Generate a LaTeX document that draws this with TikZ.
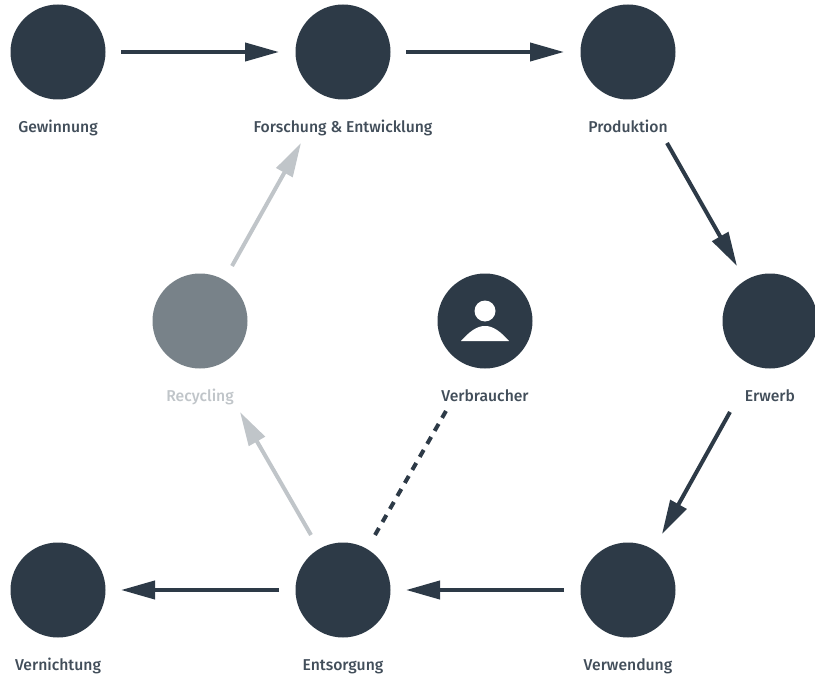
\documentclass[tikz,border=0pt]{standalone}
\usepackage{fontspec}
\setmainfont{Fira Sans}[BoldFont={Fira Sans Medium}]
\usepackage{xcolor}
\usetikzlibrary{arrows.meta}
\definecolor{darkblue}{HTML}{2D3A47}
\definecolor{midgray}{HTML}{788289}
\definecolor{lightgray}{HTML}{C0C5C9}
\tikzset{
    station/.style={circle, fill=darkblue, minimum size=95pt, inner sep=0pt, outer sep=0pt},
    caption/.style={font=\fontsize{15.7}{18}\selectfont\bfseries, text=darkblue!90, inner sep=0pt, anchor=base},
    flow/.style={line width=4pt, draw=darkblue, -{Triangle[length=34pt,width=18pt]}},
    backflow/.style={flow, draw=lightgray}
}

\begin{document}
\begin{tikzpicture}[x=1pt,y=-1pt]
    \useasboundingbox (0,0) rectangle (815,677);

    % Stations
    \node[station] (gewinnung) at (58,52) {};
    \node[station] (forschung) at (343,52) {};
    \node[station] (produktion) at (628,52) {};
    \node[station] (erwerb) at (770,321) {};
    \node[station] (verbraucher) at (485,321) {};
    \node[station, fill=midgray] (recycling) at (200,321) {};
    \node[station] (vernichtung) at (58,590) {};
    \node[station] (entsorgung) at (343,590) {};
    \node[station] (verwendung) at (628,590) {};

    % Captions
    \node[caption] (capgewinnung) at (58,132) {Gewinnung};
    \node[caption] (capforschung) at (343,132) {Forschung \& Entwicklung};
    \node[caption] (capproduktion) at (628,132) {Produktion};
    \node[caption] (caperwerb) at (770,401) {Erwerb};
    \node[caption] (capverbraucher) at (485,401) {Verbraucher};
    \node[caption, text=lightgray] (caprecycling) at (200,401) {Recycling};
    \node[caption] (capvernichtung) at (58,670) {Vernichtung};
    \node[caption] (capentsorgung) at (343,670) {Entsorgung};
    \node[caption] (capverwendung) at (628,670) {Verwendung};

    % Consumer icon
    \fill[white] (485,311) circle (10.5);
    \fill[white] (461,341) .. controls (470,331) and (477,326) .. (485,326)
        .. controls (493,326) and (500,331) .. (509,341) -- cycle;

    % Upper row
    \draw[flow] ([xshift=63pt]gewinnung.center) -- ([xshift=-64pt]forschung.center);
    \draw[flow] ([xshift=63pt]forschung.center) -- ([xshift=-64pt]produktion.center);

    % Right side
    \draw[flow] ([shift={(39pt,-91pt)}]produktion.center) -- ([shift={(-33pt,55pt)}]erwerb.center);
    \draw[flow] ([shift={(-40pt,-91pt)}]erwerb.center) -- ([shift={(34pt,56pt)}]verwendung.center);

    % Lower row
    \draw[flow] ([xshift=-64pt]verwendung.center) -- ([xshift=63pt]entsorgung.center);
    \draw[flow] ([xshift=-64pt]entsorgung.center) -- ([xshift=63pt]vernichtung.center);

    % Way back
    \draw[backflow] ([shift={(-32pt,55pt)}]entsorgung.center) -- ([shift={(40pt,-91pt)}]recycling.center);
    \draw[backflow] ([shift={(32pt,55pt)}]recycling.center) -- ([shift={(-42pt,-91pt)}]forschung.center);

    % Consumer link
    \draw[line width=4pt, draw=darkblue, dash pattern=on 8pt off 7pt]
        ([shift={(32pt,55pt)}]entsorgung.center) -- ([shift={(-39pt,-90pt)}]verbraucher.center);
\end{tikzpicture}
\end{document}
